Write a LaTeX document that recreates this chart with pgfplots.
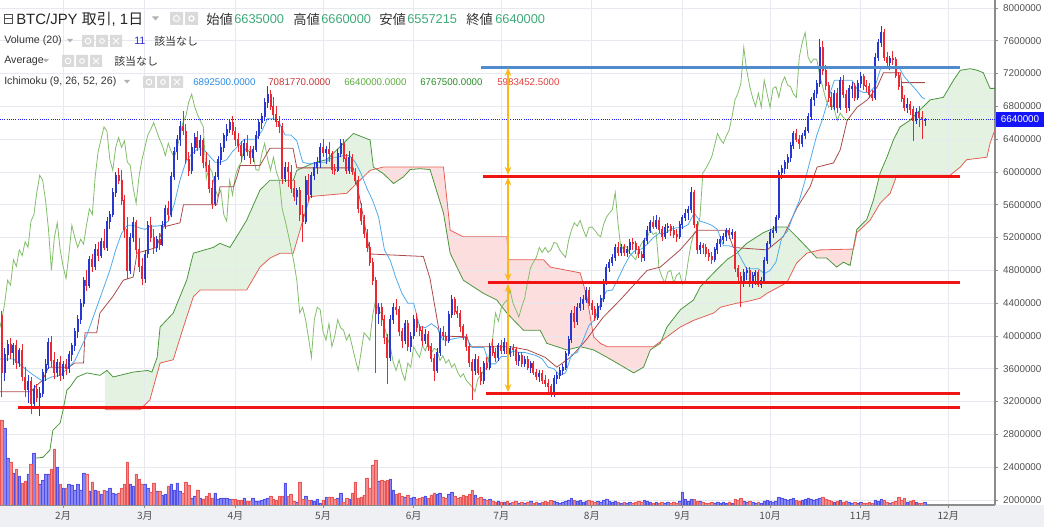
\documentclass[border=0pt]{standalone}
\usepackage{fontspec}
\setmainfont{Liberation Sans}
\newfontfamily\cjk{Noto Sans CJK JP}
\usepackage{pgfplots}
\pgfplotsset{compat=1.18}
\usepackage{pgfplotstable}
\usepgfplotslibrary{fillbetween}
\usetikzlibrary{arrows.meta}

\definecolor{upc}{RGB}{40,55,205}
\definecolor{dnc}{RGB}{235,40,50}
\definecolor{vupf}{RGB}{135,135,245}
\definecolor{vupd}{RGB}{80,80,230}
\definecolor{vdnf}{RGB}{245,140,140}
\definecolor{vdnd}{RGB}{235,85,85}
\definecolor{gridc}{RGB}{230,234,240}
\definecolor{axc}{RGB}{140,140,140}
\definecolor{labc}{RGB}{80,80,80}
\definecolor{tenc}{RGB}{80,170,235}
\definecolor{kijc}{RGB}{170,75,75}
\definecolor{chkc}{RGB}{130,190,105}
\definecolor{sac}{RGB}{75,150,60}
\definecolor{sbc}{RGB}{230,95,85}
\definecolor{cloudg}{RGB}{90,180,80}
\definecolor{cloudr}{RGB}{240,90,90}
\definecolor{annr}{RGB}{240,20,20}
\definecolor{annb}{RGB}{80,140,205}
\definecolor{arrc}{RGB}{250,185,25}
\definecolor{hgreen}{RGB}{60,170,120}
\definecolor{stripc}{RGB}{238,240,244}
\definecolor{iconc}{RGB}{218,218,218}
\definecolor{tvA}{RGB}{40,140,230}
\definecolor{tvB}{RGB}{200,50,50}
\definecolor{tvC}{RGB}{90,170,60}
\definecolor{tvD}{RGB}{40,140,40}
\definecolor{tvE}{RGB}{230,60,60}
\definecolor{curc}{RGB}{30,30,255}
\definecolor{boxc}{RGB}{20,20,250}
\definecolor{volc}{RGB}{40,40,200}

\pgfplotstableread{
d o h l c v
9 430 440 410 425 128
10 425 430 325 355 340
11 355 385 345 378 308
12 378 395 370 390 188
13 390 398 372 380 172
14 380 392 365 388 128
15 388 395 360 368 144
16 368 385 362 382 116
17 382 390 345 350 88
18 350 362 325 335 96
19 335 352 318 345 124
20 345 350 305 318 164
21 318 340 312 335 208
22 335 342 320 325 124
23 325 338 302 330 84
24 330 360 326 355 100
25 355 372 345 365 124
26 365 398 360 392 124
27 392 400 362 370 144
28 370 380 348 355 224
29 355 372 350 368 152
30 368 375 345 352 84
31 352 370 348 365 68
32 365 372 352 360 68
33 360 382 355 378 84
34 378 392 370 388 80
35 388 410 382 405 60
36 405 425 398 420 84
37 420 445 415 440 60
38 440 472 435 468 128
39 468 480 455 462 124
40 462 498 458 493 56
41 493 500 478 485 92
42 485 512 480 505 60
43 505 515 492 498 56
44 498 520 495 515 44
45 515 530 505 508 60
46 508 545 504 540 56
47 540 552 530 548 68
48 548 580 545 575 48
49 575 600 570 596 44
50 596 605 585 590 48
51 590 602 560 565 68
52 565 572 520 530 84
53 530 545 470 480 172
54 480 525 475 520 84
55 520 545 515 538 76
56 538 542 500 505 124
57 505 520 478 485 104
58 485 495 462 470 84
59 470 505 465 500 84
60 500 540 495 535 68
61 535 545 515 520 52
62 520 530 500 508 88
63 508 522 502 518 56
64 518 525 505 512 56
65 512 540 510 535 40
66 535 560 530 555 44
67 555 565 540 548 76
68 548 600 545 595 84
69 595 630 590 625 60
70 625 645 615 640 88
71 640 662 632 655 56
72 655 675 645 650 48
73 650 658 610 615 92
74 615 625 595 602 80
75 602 635 598 630 28
76 630 648 622 642 36
77 642 650 625 630 60
78 630 645 620 638 28
79 638 642 605 612 24
80 612 625 600 608 36
81 608 615 575 580 48
82 580 590 555 562 28
83 562 600 558 595 48
84 595 620 590 615 24
85 615 635 608 630 28
86 630 648 625 645 28
87 645 658 638 652 28
88 652 665 648 660 24
89 660 668 645 650 24
90 650 655 632 640 24
91 640 648 625 632 20
92 632 638 612 620 20
93 620 640 615 635 28
94 635 645 620 625 16
95 625 632 610 618 16
96 618 632 612 628 28
97 628 650 624 645 16
98 645 665 640 660 16
99 660 672 652 668 20
100 668 690 662 685 24
101 685 705 678 695 28
102 695 700 675 680 36
103 680 692 665 670 24
104 670 680 655 662 20
105 662 668 648 655 36
106 655 660 585 592 36
107 592 612 588 606 88
108 606 612 582 600 36
109 600 608 575 580 44
110 580 590 565 570 16
111 570 580 560 578 12
112 578 582 540 548 92
113 548 560 515 540 24
114 540 595 536 590 36
115 590 598 565 572 20
116 572 600 568 596 20
117 596 612 590 606 16
118 606 618 598 612 24
119 612 635 605 630 8
120 630 640 618 624 20
121 624 632 610 628 32
122 628 636 612 622 32
123 622 626 598 603 32
124 603 610 596 602 24
125 602 628 600 622 28
126 622 640 618 635 48
127 635 640 612 616 12
128 616 622 598 602 28
129 602 625 598 618 24
130 618 622 596 600 48
131 600 605 585 590 92
132 590 595 550 555 28
133 555 562 535 541 32
134 541 548 520 525 40
135 525 530 502 508 108
136 508 515 485 490 68
137 490 495 462 468 160
138 468 472 355 428 180
139 428 440 415 435 96
140 435 440 412 420 100
141 420 425 390 398 96
142 398 402 342 374 100
143 374 425 370 420 104
144 420 440 415 435 60
145 435 445 425 432 44
146 432 436 400 405 48
147 405 410 385 395 36
148 395 420 390 415 32
149 415 420 382 387 40
150 387 405 380 400 28
151 400 425 396 420 32
152 420 428 405 410 24
153 410 415 400 407 28
154 407 412 388 395 32
155 395 408 390 402 36
156 402 406 382 387 28
157 387 392 368 372 40
158 372 378 345 358 48
159 358 385 355 380 44
160 380 410 375 404 48
161 404 412 395 400 32
162 400 405 388 395 28
163 395 430 392 426 44
164 426 450 422 444 52
165 444 448 425 430 36
166 430 436 422 428 28
167 428 432 405 411 32
168 411 415 395 398 40
169 398 402 382 387 36
170 387 392 362 368 44
171 368 372 322 358 60
172 358 378 352 371 40
173 371 376 352 356 28
174 356 362 340 346 32
175 346 370 342 367 24
176 367 374 358 362 20
177 362 392 358 387 24
178 387 396 376 380 16
179 380 385 368 374 12
180 374 392 370 388 16
181 388 395 378 382 12
182 382 398 378 392 12
183 392 396 375 379 16
184 379 388 374 385 8
185 385 390 375 383 12
186 383 386 365 370 16
187 370 380 364 376 8
188 376 380 362 367 12
189 367 376 362 371 8
190 371 375 358 362 12
191 362 370 355 366 16
192 366 370 352 356 8
193 356 360 346 350 12
194 350 358 344 354 8
195 354 358 342 346 12
196 346 352 338 342 16
197 342 348 332 338 12
198 338 342 326 332 20
199 332 352 326 348 16
200 348 356 342 352 12
201 352 362 348 358 8
202 358 366 352 362 12
203 362 382 358 379 16
204 379 400 375 396 20
205 396 432 392 428 28
206 428 436 410 418 20
207 418 440 414 435 16
208 435 448 430 440 20
209 440 450 432 444 12
210 444 460 440 456 16
211 456 460 436 440 20
212 440 444 426 432 16
213 432 436 418 423 12
214 423 440 420 436 16
215 436 450 432 446 12
216 446 470 442 466 20
217 466 488 462 483 24
218 483 494 478 490 16
219 490 500 485 496 12
220 496 512 492 508 16
221 508 515 498 502 12
222 502 512 498 508 8
223 508 512 498 502 12
224 502 510 496 505 8
225 505 518 500 514 12
226 514 520 505 513 8
227 513 516 500 505 12
228 505 510 495 500 16
229 500 504 490 496 12
230 496 520 492 516 20
231 516 534 512 529 16
232 529 542 525 538 12
233 538 546 530 534 8
234 534 548 530 541 12
235 541 545 526 530 8
236 530 534 516 521 12
237 521 536 518 532 8
238 532 538 525 533 12
239 533 536 522 529 8
240 529 534 520 524 12
241 524 530 515 521 8
242 521 540 518 536 16
243 536 548 530 545 52
244 545 555 540 550 24
245 550 558 542 554 16
246 554 582 550 575 24
247 575 578 532 536 24
248 536 540 500 505 16
249 505 515 500 510 16
250 510 514 500 508 12
251 508 512 496 501 8
252 501 506 492 497 8
253 497 502 488 493 12
254 493 508 490 505 8
255 505 518 500 513 12
256 513 522 508 518 8
257 518 525 512 521 12
258 521 532 516 529 8
259 529 532 518 524 12
260 524 530 518 526 8
261 526 528 478 482 24
262 482 486 465 472 20
263 472 478 435 465 28
264 465 482 460 478 16
265 478 484 468 480 12
266 480 484 460 465 16
267 465 478 458 474 12
268 474 480 462 477 8
269 477 480 460 463 12
270 463 472 458 468 8
271 468 496 465 492 16
272 492 516 488 513 20
273 513 530 508 526 16
274 526 534 520 529 12
275 529 548 525 545 16
276 545 602 542 599 32
277 599 608 592 604 28
278 604 615 598 611 24
279 611 622 604 618 20
280 618 636 612 632 24
281 632 650 628 647 28
282 647 652 636 640 20
283 640 645 628 635 16
284 635 648 630 644 20
285 644 655 640 651 24
286 651 672 648 668 28
287 668 692 664 688 24
288 688 700 680 696 20
289 696 712 690 708 24
290 708 762 704 752 28
291 752 760 718 724 32
292 724 730 700 705 24
293 705 710 685 691 20
294 691 698 676 680 16
295 680 700 675 696 12
296 696 702 672 679 16
297 679 716 676 712 20
298 712 718 690 695 12
299 695 700 672 679 16
300 679 706 675 702 12
301 702 710 690 704 8
302 704 708 686 691 12
303 691 712 688 708 8
304 708 722 702 716 12
305 716 720 700 706 8
306 706 712 698 704 8
307 704 708 690 695 12
308 695 700 686 691 8
309 691 745 688 740 20
310 740 762 735 758 16
311 758 778 752 770 24
312 770 774 735 740 20
313 740 746 728 733 12
314 733 742 725 738 8
315 738 748 730 737 12
316 737 740 715 718 16
317 718 722 700 704 32
318 704 708 685 690 20
319 690 694 674 679 28
320 679 690 672 682 12
321 682 686 670 676 16
322 676 680 638 663 20
323 663 678 658 672 12
324 672 680 655 667 8
325 667 675 640 663.5 8
326 663.5 666 655.7 664 11
}\ohlc

\pgfplotsset{
  chartax/.style={
    at={(0pt,16.5pt)}, anchor=south west,
    width=746.25pt, height=378.75pt, scale only axis,
    xmin=9.4, xmax=350, ymin=193.9, ymax=809.76,
  },
}

\begin{document}
\begin{tikzpicture}
% bottom strip
\begin{scope}[shift={(0pt,395.25pt)}, x=0.75pt, y=-0.75pt]
  \fill[stripc] (0,505) rectangle (1044,527);
\end{scope}

% base axis: grid, ticks, labels
\begin{axis}[chartax,
  axis x line*=bottom, axis y line*=right,
  axis line style={draw=axc, line width=0.8pt},
  tick align=outside, major tick length=2.5pt,
  tick style={draw=axc, line width=0.6pt},
  xtick={31,59,90,120,151,181,212,243,273,304,334},
  xticklabels={2月,3月,4月,5月,6月,7月,8月,9月,10月,11月,12月},
  xticklabel style={font=\cjk\fontsize{7.6}{8}\selectfont, text=labc, yshift=1pt},
  ytick={200,240,...,800},
  yticklabel={\pgfmathprintnumber[fixed,precision=0,assume math mode=true]{\tick}0000},
  yticklabel style={font=\fontsize{7.4}{8}\selectfont, text=labc},
  grid=major, major grid style={draw=gridc, line width=0.6pt},
]
\addplot[draw=none] coordinates {(100,500)};
\end{axis}

% volume axis
\begin{axis}[chartax, hide axis, ymin=0, ymax=2020]
\addplot[ybar, bar width=1.9pt, bar shift=0pt, fill=vupf, draw=vupd, line width=0.35pt,
  restrict expr to domain={\thisrow{c}-\thisrow{o}}{0:100000}] table[x=d, y=v] {\ohlc};
\addplot[ybar, bar width=1.9pt, bar shift=0pt, fill=vdnf, draw=vdnd, line width=0.35pt,
  restrict expr to domain={\thisrow{c}-\thisrow{o}}{-100000:-0.001}] table[x=d, y=v] {\ohlc};
\end{axis}

% header texts
\begin{scope}[shift={(0pt,395.25pt)}, x=0.75pt, y=-0.75pt]
  \draw[labc, line width=0.6pt] (4,14) rectangle (12,23) (4,18.5) -- (12,18.5);
  \node[anchor=west, inner sep=0pt, text=black!85, font=\fontsize{11.2}{13}\selectfont] at (16,19) {BTC/JPY {\cjk 取引}, 1{\cjk 日}};
  \fill[black!30] (152,16.5) -- (159,16.5) -- (155.5,20.5) -- cycle;
  \fill[iconc] (170,12) rectangle (183,25) (185,12) rectangle (198,25);
  \draw[white, line width=0.7pt] (176.5,18.5) circle (3);
  \draw[white, line width=0.9pt] (191.5,18.5) circle (2.6);
  \node[anchor=west, inner sep=0pt, font=\cjk\fontsize{10}{12}\selectfont, text=black!80] at (206,19) {始値};
  \node[anchor=west, inner sep=0pt, font=\fontsize{9.6}{12}\selectfont, text=hgreen] at (234,19) {6635000};
  \node[anchor=west, inner sep=0pt, font=\cjk\fontsize{10}{12}\selectfont, text=black!80] at (293,19) {高値};
  \node[anchor=west, inner sep=0pt, font=\fontsize{9.6}{12}\selectfont, text=hgreen] at (321,19) {6660000};
  \node[anchor=west, inner sep=0pt, font=\cjk\fontsize{10}{12}\selectfont, text=black!80] at (379,19) {安値};
  \node[anchor=west, inner sep=0pt, font=\fontsize{9.6}{12}\selectfont, text=hgreen] at (407,19) {6557215};
  \node[anchor=west, inner sep=0pt, font=\cjk\fontsize{10}{12}\selectfont, text=black!80] at (466,19) {終値};
  \node[anchor=west, inner sep=0pt, font=\fontsize{9.6}{12}\selectfont, text=hgreen] at (495,19) {6640000};
  % line 2
  \node[anchor=west, inner sep=0pt, font=\fontsize{8}{10}\selectfont, text=black!80] at (4,41) {Volume (20)};
  \fill[black!30] (67,39) -- (73,39) -- (70,42.5) -- cycle;
  \fill[iconc] (82,35) rectangle (94,47) (96,35) rectangle (108,47) (110,35) rectangle (122,47);
  \draw[white, line width=0.7pt] (88,41) circle (2.8) (102,41) circle (2.4) (113,38)--(119,44) (113,44)--(119,38);
  \node[anchor=west, inner sep=0pt, font=\fontsize{8}{10}\selectfont, text=volc] at (134,41) {11};
  \node[anchor=west, inner sep=0pt, font=\cjk\fontsize{8.2}{10}\selectfont, text=black!80] at (154,41) {該当なし};
  % line 3
  \node[anchor=west, inner sep=0pt, font=\fontsize{8}{10}\selectfont, text=black!80] at (4,61) {Average};
  \fill[black!30] (43,59) -- (49,59) -- (46,62.5) -- cycle;
  \fill[iconc] (62,55) rectangle (74,67) (76,55) rectangle (88,67) (90,55) rectangle (102,67);
  \draw[white, line width=0.7pt] (68,61) circle (2.8) (82,61) circle (2.4) (93,58)--(99,64) (93,64)--(99,58);
  \node[anchor=west, inner sep=0pt, font=\cjk\fontsize{8.2}{10}\selectfont, text=black!80] at (114,61) {該当なし};
  % line 4
  \node[anchor=west, inner sep=0pt, font=\fontsize{8}{10}\selectfont, text=black!80] at (4,82) {Ichimoku (9, 26, 52, 26)};
  \fill[black!30] (124,80) -- (130,80) -- (127,83.5) -- cycle;
  \fill[iconc] (143,76) rectangle (155,88) (157,76) rectangle (169,88) (171,76) rectangle (183,88);
  \draw[white, line width=0.7pt] (149,82) circle (2.8) (163,82) circle (2.4) (174,79)--(180,85) (174,85)--(180,79);
  \node[anchor=west, inner sep=0pt, font=\fontsize{7.3}{10}\selectfont, text=tvA] at (193,82) {6892500.0000};
  \node[anchor=west, inner sep=0pt, font=\fontsize{7.3}{10}\selectfont, text=tvB] at (268,82) {7081770.0000};
  \node[anchor=west, inner sep=0pt, font=\fontsize{7.3}{10}\selectfont, text=tvC] at (344,82) {6640000.0000};
  \node[anchor=west, inner sep=0pt, font=\fontsize{7.3}{10}\selectfont, text=tvD] at (420,82) {6767500.0000};
  \node[anchor=west, inner sep=0pt, font=\fontsize{7.3}{10}\selectfont, text=tvE] at (497,82) {5983452.5000};
\end{scope}

% price axis
\begin{axis}[chartax, hide axis]
% senkou span paths for the cloud
\addplot[name path=SA, draw=none, forget plot] coordinates {
(21.4,251)(24.1,252)(26.5,261)(27.5,285)(30,294)(31,310)(32.3,334)(33.4,338)(35.8,350)(39.2,355)(43.6,352)(46,358)(48.1,350)(55,356)(60,358)(61.4,356)(63.2,374)(64.2,411)(68.7,428)(73.3,468)(75.6,501)(82.4,508)(84.7,513)(88.1,508)(90.4,521)(93.8,541)(98.4,578)(101.8,590)(109.8,590)(111,602)(116.7,611)(121.2,615)(124.7,627)(128.1,639)(130.4,647)(136.1,639)(137.2,606)(140.6,598)(144.1,586)(147.5,594)(149.8,603)(153.2,604)(156.6,603)(161.2,550)(163.5,501)(168,468)(174.9,452)(179.4,444)(182.9,428)(188.6,407)(194.3,407)(196.6,391)(203.5,383)(208,387)(212.6,383)(217.2,374)(220.6,367)(226.3,355)(229.7,362)(232,383)(235.4,391)(237.7,411)(242.3,432)(246.8,444)(249.1,460)(253.7,477)(258.2,493)(261.6,501)(265,513)(270.7,526)(275.3,533)(278.7,533)(282.1,521)(285.6,508)(289,495)(292.4,495)(295.8,484)(298.1,490)(300.4,486)(302.7,530)(306.1,542)(308.4,566)(310.7,599)(313,618)(315.2,639)(317.5,655)(320.9,663)(324.4,676)(327.8,688)(332.3,691)(335.8,712)(338.1,724)(341.5,726)(344,724)(346,721)(348.3,702)(350.5,702)};
\addplot[name path=SB, draw=none, forget plot] coordinates {
(45.3,310)(57.3,310)(60.7,322)(64.2,367)(68.7,371)(72.2,411)(75.6,448)(77.9,456)(93.8,456)(98.4,484)(101.8,495)(105.3,501)(109.8,501)(112.1,529)(115.5,570)(128.1,574)(129.2,578)(136.1,602)(140.6,606)(161.2,606)(163.5,529)(168,521)(182.9,521)(183.5,493)(195.5,493)(197.8,484)(208,477)(210.3,448)(212.6,399)(214.9,391)(217.2,387)(233.1,387)(237.7,399)(242.3,411)(246.8,419)(253.7,428)(256,435)(261.6,440)(265.1,442)(269.6,446)(271.9,452)(278.7,465)(282.1,489)(285.6,501)(290.1,505)(301.5,506)(302.7,526)(307.2,541)(310.7,562)(314.1,574)(316.4,596)(334.6,596)(338.1,606)(340.3,615)(347.2,618)(348.3,635)(349.5,647)(350.5,655)};
\addplot[forget plot, draw=none] fill between[of=SA and SB, soft clip={domain=45.3:350.5}, split,
  every even segment/.style={fill=cloudg, fill opacity=0.17},
  every odd segment/.style={fill=cloudr, fill opacity=0.2}];
% visible senkou lines
\addplot[sac, line width=0.6pt] coordinates {
(21.4,251)(24.1,252)(26.5,261)(27.5,285)(30,294)(31,310)(32.3,334)(33.4,338)(35.8,350)(39.2,355)(43.6,352)(46,358)(48.1,350)(55,356)(60,358)(61.4,356)(63.2,374)(64.2,411)(68.7,428)(73.3,468)(75.6,501)(82.4,508)(84.7,513)(88.1,508)(90.4,521)(93.8,541)(98.4,578)(101.8,590)(109.8,590)(111,602)(116.7,611)(121.2,615)(124.7,627)(128.1,639)(130.4,647)(136.1,639)(137.2,606)(140.6,598)(144.1,586)(147.5,594)(149.8,603)(153.2,604)(156.6,603)(161.2,550)(163.5,501)(168,468)(174.9,452)(179.4,444)(182.9,428)(188.6,407)(194.3,407)(196.6,391)(203.5,383)(208,387)(212.6,383)(217.2,374)(220.6,367)(226.3,355)(229.7,362)(232,383)(235.4,391)(237.7,411)(242.3,432)(246.8,444)(249.1,460)(253.7,477)(258.2,493)(261.6,501)(265,513)(270.7,526)(275.3,533)(278.7,533)(282.1,521)(285.6,508)(289,495)(292.4,495)(295.8,484)(298.1,490)(300.4,486)(302.7,530)(306.1,542)(308.4,566)(310.7,599)(313,618)(315.2,639)(317.5,655)(320.9,663)(324.4,676)(327.8,688)(332.3,691)(335.8,712)(338.1,724)(341.5,726)(344,724)(346,721)(348.3,702)(350.5,702)};
\addplot[sbc, line width=0.6pt] coordinates {
(45.3,310)(57.3,310)(60.7,322)(64.2,367)(68.7,371)(72.2,411)(75.6,448)(77.9,456)(93.8,456)(98.4,484)(101.8,495)(105.3,501)(109.8,501)(112.1,529)(115.5,570)(128.1,574)(129.2,578)(136.1,602)(140.6,606)(161.2,606)(163.5,529)(168,521)(182.9,521)(183.5,493)(195.5,493)(197.8,484)(208,477)(210.3,448)(212.6,399)(214.9,391)(217.2,387)(233.1,387)(237.7,399)(242.3,411)(246.8,419)(253.7,428)(256,435)(261.6,440)(265.1,442)(269.6,446)(271.9,452)(278.7,465)(282.1,489)(285.6,501)(290.1,505)(301.5,506)(302.7,526)(307.2,541)(310.7,562)(314.1,574)(316.4,596)(334.6,596)(338.1,606)(340.3,615)(347.2,618)(348.3,635)(349.5,647)(350.5,655)};
% chikou span (closes shifted back 26 days)
\addplot[chkc, line width=0.6pt] table[x expr=\thisrow{d}-26, y=c] {\ohlc};
% kijun
\addplot[kijc, line width=0.6pt] coordinates {
(9,332)(20,332)(22,340)(24,346)(26,362)(33,362)(35,367)(38,367)(38.5,404)(42.5,404)(43.6,428)(48,448)(51.6,468)(55,472)(56.3,501)(63,508)(65.3,533)(71,538)(72.2,560)(83.6,560)(84.7,582)(89.3,582)(90.5,594)(91.6,608)(98.4,608)(101.8,629)(109.7,629)(111,605)(130.3,605)(133,560)(136.1,500)(154.3,497)(156.6,470)(160,400)(169.3,399)(170.3,387)(184,387)(190,383)(196,374)(200,362)(205,375)(210,395)(215.9,423)(221.7,444)(230.9,480)(235.4,484)(242.2,505)(248.1,529)(258.3,529)(260.4,508)(272,505)(277.5,521)(282.3,557)(286.7,582)(289.1,606)(294.7,611)(297,627)(299.4,663)(302.8,679)(306.3,688)(309.7,704)(311.8,721)(317.6,721)(318,709)(326,709)};
% tenkan
\addplot[tenc, line width=0.6pt] coordinates {
(9,372)(14,372)(18,360)(21,352)(24,345)(27,350)(30,352)(33,362)(35,370)(37,385)(39,400)(41,420)(43,440)(45,460)(47,480)(49,505)(51,525)(53,535)(55,535)(57,532)(59,530)(61,534)(63,534)(65,535)(67,540)(69,560)(71,590)(73,612)(75,622)(77,628)(79,628)(81,620)(83,612)(85,612)(87,615)(89,625)(91,632)(93,640)(95,640)(97,640)(99,650)(101,665)(103,665)(105,660)(107,645)(109,645)(111,638)(113,612)(115,610)(117,610)(119,612)(121,612)(123,618)(125,618)(127,620)(129,620)(131,612)(133,598)(135,580)(137,565)(139,545)(141,505)(143,492)(145,470)(147,452)(149,440)(151,440)(153,412)(155,410)(157,415)(159,410)(161,395)(163,395)(165,397)(167,398)(169,398)(171,386)(173,386)(175,386)(177,366)(179,366)(181,375)(183,375)(185,382)(187,380)(189,380)(191,378)(193,376)(195,372)(197,362)(199,360)(201,352)(203,355)(205,377)(207,380)(209,395)(211,413)(213,420)(215,440)(217,455)(219,456)(221,470)(223,485)(225,498)(227,505)(229,506)(231,512)(233,520)(235,525)(237,525)(239,530)(241,532)(243,532)(245,536)(247,550)(249,540)(251,538)(253,535)(255,530)(257,510)(259,510)(261,508)(263,495)(265,482)(267,482)(269,482)(271,476)(273,480)(275,490)(277,520)(279,528)(281,548)(283,565)(285,590)(287,618)(289,645)(291,665)(293,690)(295,712)(297,712)(299,712)(301,712)(303,700)(305,697)(307,697)(309,705)(311,728)(313,728)(315,728)(317,728)(319,716)(321,708)(323,700)(325,691)(326,689)};
% candles: wicks
\addplot[forget plot, draw=none, mark=none,
  restrict expr to domain={\thisrow{c}-\thisrow{o}}{0:100000},
  error bars/.cd, y dir=both, y explicit, error mark=none,
  error bar style={draw=upc, line width=0.55pt}]
  table[x=d, y expr={(\thisrow{h}+\thisrow{l})/2}, y error expr={(\thisrow{h}-\thisrow{l})/2}] {\ohlc};
\addplot[forget plot, draw=none, mark=none,
  restrict expr to domain={\thisrow{c}-\thisrow{o}}{-100000:-0.001},
  error bars/.cd, y dir=both, y explicit, error mark=none,
  error bar style={draw=dnc, line width=0.55pt}]
  table[x=d, y expr={(\thisrow{h}+\thisrow{l})/2}, y error expr={(\thisrow{h}-\thisrow{l})/2}] {\ohlc};
% candles: bodies
\addplot[forget plot, draw=none, mark=none,
  restrict expr to domain={\thisrow{c}-\thisrow{o}}{0:100000},
  error bars/.cd, y dir=both, y explicit, error mark=none,
  error bar style={draw=upc, line width=1.5pt}]
  table[x=d, y expr={(\thisrow{o}+\thisrow{c})/2}, y error expr={abs(\thisrow{c}-\thisrow{o})/2+0.6}] {\ohlc};
\addplot[forget plot, draw=none, mark=none,
  restrict expr to domain={\thisrow{c}-\thisrow{o}}{-100000:-0.001},
  error bars/.cd, y dir=both, y explicit, error mark=none,
  error bar style={draw=dnc, line width=1.5pt}]
  table[x=d, y expr={(\thisrow{o}+\thisrow{c})/2}, y error expr={abs(\thisrow{c}-\thisrow{o})/2+0.6}] {\ohlc};
% current price line
\addplot[curc, line width=0.75pt, dash pattern=on 0.75pt off 0.9pt] coordinates {(9.4,664)(350,664)};
% drawn levels
\addplot[annb, line width=2.2pt] coordinates {(174.1,728)(338.1,728)};
\addplot[annr, line width=2.2pt] coordinates {(174.8,595)(338.1,595)};
\addplot[annr, line width=2.2pt] coordinates {(176.5,465)(338.1,465)};
\addplot[annr, line width=2.2pt] coordinates {(175.8,330)(338.1,330)};
\addplot[annr, line width=2.2pt] coordinates {(15.6,312.5)(338.1,312.5)};
% arrows
\addplot[arrc, line width=1.4pt, {Stealth[length=6pt,width=5pt]}-{Stealth[length=6pt,width=5pt]}] coordinates {(183.3,727)(183.3,596.5)};
\addplot[arrc, line width=1.4pt, {Stealth[length=6pt,width=5pt]}-{Stealth[length=6pt,width=5pt]}] coordinates {(183.3,593.5)(183.3,466.5)};
\addplot[arrc, line width=1.4pt, {Stealth[length=6pt,width=5pt]}-{Stealth[length=6pt,width=5pt]}] coordinates {(183.3,463.5)(183.3,331.5)};
\end{axis}

% price label on the scale
\begin{scope}[shift={(0pt,395.25pt)}, x=0.75pt, y=-0.75pt]
  \fill[boxc] (996,112) rectangle (1044,127);
  \node[text=white, inner sep=0pt, font=\fontsize{7.4}{8}\selectfont] at (1020,119.5) {6640000};
\end{scope}

\pgfresetboundingbox
\path (0pt,0pt) rectangle (783pt,395.25pt);
\end{tikzpicture}
\end{document}
